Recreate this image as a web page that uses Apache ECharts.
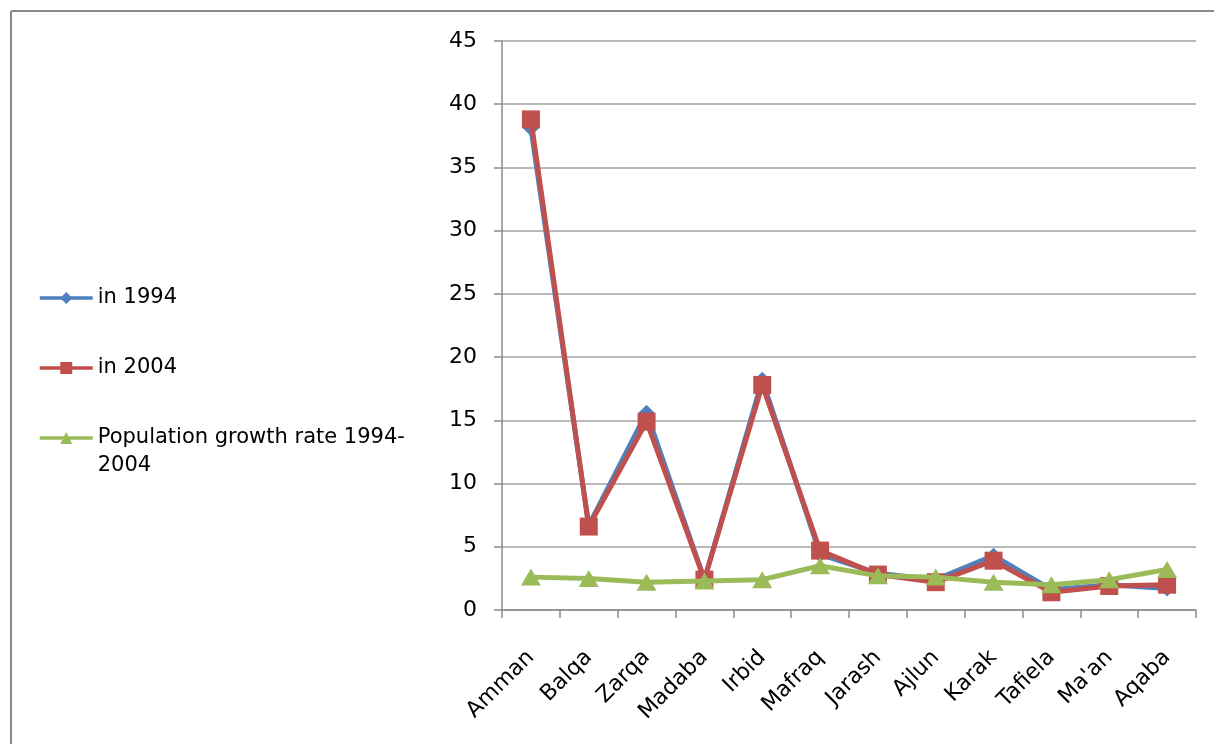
<!DOCTYPE html>
<html>
<head>
<meta charset="utf-8">
<title>Population share by governorate</title>
<script src="https://cdn.jsdelivr.net/npm/echarts@6/dist/echarts.min.js"></script>
<style>
  html, body { margin: 0; padding: 0; background: #fff; }
  #chart { width: 1214px; height: 744px; }
</style>
</head>
<body>
<div id="chart"></div>
<script>
// Governorates on the category axis
const governorates = ['Amman', 'Balqa', 'Zarqa', 'Madaba', 'Irbid', 'Mafraq', 'Jarash', 'Ajlun', 'Karak', 'Tafiela', "Ma'an", 'Aqaba'];

// Share of population (%) in each census year
const share1994 = [38.1, 6.7, 15.6, 2.4, 18.2, 4.4, 2.9, 2.4, 4.3, 1.6, 2.0, 1.7];
const share2004 = [38.8, 6.6, 14.9, 2.4, 17.8, 4.7, 2.8, 2.2, 3.9, 1.4, 1.9, 2.0];

// Annual population growth rate between the two censuses (%)
const growthRate = [2.6, 2.5, 2.2, 2.3, 2.4, 3.5, 2.7, 2.6, 2.2, 2.0, 2.4, 3.2];

const seriesNames = ['in 1994', 'in 2004', 'Population growth rate 1994-2004'];

const FONT = 'DejaVu Sans';
const chart = echarts.init(document.getElementById('chart'));

function legendFor(name, top, label) {
  return {
    data: [name],
    left: 38,
    top: top,
    orient: 'vertical',
    padding: 0,
    itemWidth: 53,
    itemHeight: 15,
    itemGap: 0,
    selectedMode: false,
    lineStyle: { width: 3.5 },
    formatter: () => label,
    textStyle: { fontFamily: FONT, fontSize: 21, color: '#000', lineHeight: 28 }
  };
}

chart.setOption({
  animation: false,
  backgroundColor: '#fff',
  // frame along the top and left edges
  graphic: [
    {
      type: 'line',
      shape: { x1: 11, y1: 11, x2: 1300, y2: 11 },
      style: { stroke: '#8a8a8a', lineWidth: 2 },
      silent: true
    },
    {
      type: 'line',
      shape: { x1: 11, y1: 11, x2: 11, y2: 800 },
      style: { stroke: '#8a8a8a', lineWidth: 2 },
      silent: true
    }
  ],
  legend: [
    legendFor(seriesNames[0], 284, 'in 1994'),
    legendFor(seriesNames[1], 354, 'in 2004'),
    legendFor(seriesNames[2], 396, '\nPopulation growth rate 1994-\n2004')
  ],
  grid: { left: 502, top: 41, right: 18, bottom: 134, containLabel: false },
  xAxis: {
    type: 'category',
    data: governorates,
    boundaryGap: true,
    axisLine: { lineStyle: { color: '#8c8c8c', width: 1.5 } },
    axisTick: { show: true, length: 8, interval: 0, lineStyle: { color: '#8c8c8c', width: 1.5 } },
    axisLabel: { interval: 0, rotate: 45, margin: 44, fontFamily: FONT, fontSize: 22, color: '#000' },
    splitLine: { show: false }
  },
  yAxis: {
    type: 'value',
    min: 0,
    max: 45,
    interval: 5,
    axisLine: { show: true, lineStyle: { color: '#8c8c8c', width: 1.5 } },
    axisTick: { show: true, length: 8, lineStyle: { color: '#8c8c8c', width: 1.5 } },
    axisLabel: { margin: 25, fontFamily: FONT, fontSize: 22, color: '#000' },
    splitLine: { show: true, lineStyle: { color: '#a2a2a2', width: 1.5 } }
  },
  series: [
    {
      name: seriesNames[0],
      type: 'line',
      data: share1994,
      symbol: 'diamond',
      symbolSize: 16,
      showAllSymbol: true,
      lineStyle: { color: '#4F81BD', width: 5 },
      itemStyle: { color: '#4F81BD', borderWidth: 0 },
      z: 2
    },
    {
      name: seriesNames[1],
      type: 'line',
      data: share2004,
      symbol: 'rect',
      symbolSize: 18,
      showAllSymbol: true,
      lineStyle: { color: '#C0504D', width: 5 },
      itemStyle: { color: '#C0504D', borderWidth: 0 },
      z: 3
    },
    {
      name: seriesNames[2],
      type: 'line',
      data: growthRate,
      symbol: 'triangle',
      symbolSize: [20, 17],
      showAllSymbol: true,
      lineStyle: { color: '#9BBB59', width: 5 },
      itemStyle: { color: '#9BBB59', borderWidth: 0 },
      z: 4
    }
  ]
});
</script>
</body>
</html>
